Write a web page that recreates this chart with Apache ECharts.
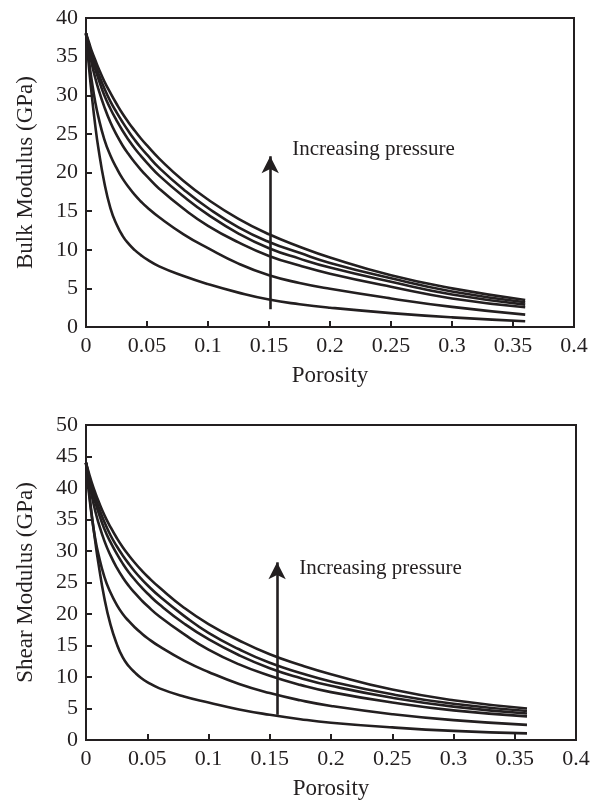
<!DOCTYPE html>
<html>
<head>
<meta charset="utf-8">
<script src="https://cdn.jsdelivr.net/npm/echarts@6/dist/echarts.min.js"></script>
<style>
html,body{margin:0;padding:0;background:#fff;}
#chart{width:601px;height:803px;}
</style>
</head>
<body>
<div id="chart"></div>
<script>
// Porosity sample points
var porosity = [0, 0.0025, 0.005, 0.0075, 0.01, 0.015, 0.02, 0.025, 0.03, 0.035, 0.04, 0.045, 0.05, 0.06, 0.08, 0.1, 0.125, 0.15, 0.175, 0.2, 0.25, 0.3, 0.36];

// Bulk modulus (GPa), lowest pressure first
var bulkP1 = [38, 33.5, 29.6, 26.2, 23.3, 18.7, 15.4, 13.3, 11.8, 10.75, 9.95, 9.3, 8.75, 7.85, 6.6, 5.55, 4.45, 3.55, 2.95, 2.5, 1.8, 1.25, 0.75];
var bulkP2 = [38, 34.4, 31.6, 29.2, 27.3, 24.3, 22.2, 20.6, 19.2, 18.1, 17.1, 16.25, 15.5, 14.2, 12.0, 10.2, 8.2, 6.7, 5.7, 4.95, 3.7, 2.6, 1.6];
var bulkP3 = [38, 35.8, 33.9, 32.3, 30.9, 28.5, 26.5, 24.9, 23.5, 22.35, 21.3, 20.35, 19.5, 17.9, 15.3, 13.1, 10.95, 9.2, 7.95, 6.9, 5.2, 3.7, 2.55];
var bulkP4 = [38, 36.3, 34.75, 33.4, 32.2, 30.0, 28.25, 26.75, 25.4, 24.2, 23.1, 22.15, 21.25, 19.6, 16.9, 14.55, 12.1, 10.2, 8.85, 7.7, 5.85, 4.2, 2.9];
var bulkP5 = [38, 36.5, 35.2, 34.0, 32.9, 30.9, 29.2, 27.8, 26.5, 25.3, 24.2, 23.2, 22.3, 20.6, 17.8, 15.4, 12.9, 11.0, 9.6, 8.3, 6.3, 4.6, 3.2];
var bulkP6 = [38, 36.8, 35.6, 34.6, 33.6, 31.8, 30.3, 28.9, 27.6, 26.45, 25.4, 24.4, 23.5, 21.8, 18.9, 16.5, 14.0, 12.0, 10.4, 9.0, 6.7, 5.0, 3.5];

// Shear modulus (GPa), lowest pressure first
var shearP1 = [44, 39.5, 35.3, 31.6, 28.2, 22.5, 18.3, 15.3, 13.1, 11.7, 10.7, 9.85, 9.2, 8.2, 6.9, 5.95, 4.85, 4.0, 3.3, 2.75, 2.0, 1.45, 1.05];
var shearP2 = [44, 39.0, 35.1, 32.0, 29.6, 25.9, 23.4, 21.5, 20.0, 18.85, 17.85, 16.98, 16.2, 14.85, 12.6, 10.8, 8.9, 7.45, 6.3, 5.4, 4.1, 3.15, 2.4];
var shearP3 = [44, 41.0, 38.5, 36.4, 34.6, 31.6, 29.3, 27.4, 25.8, 24.45, 23.3, 22.25, 21.3, 19.6, 16.8, 14.35, 12.0, 10.2, 8.75, 7.6, 5.95, 4.7, 3.75];
var shearP4 = [44, 41.6, 39.6, 37.8, 36.2, 33.5, 31.4, 29.6, 28.0, 26.6, 25.4, 24.3, 23.3, 21.5, 18.5, 16.0, 13.45, 11.4, 9.85, 8.6, 6.7, 5.3, 4.2];
var shearP5 = [44, 41.9, 40.1, 38.5, 37.1, 34.6, 32.5, 30.8, 29.3, 27.95, 26.7, 25.6, 24.6, 22.8, 19.7, 17.0, 14.4, 12.25, 10.65, 9.3, 7.25, 5.75, 4.6];
var shearP6 = [44, 42.3, 40.7, 39.3, 38.0, 35.7, 33.8, 32.1, 30.6, 29.3, 28.1, 27.0, 26.0, 24.2, 21.0, 18.4, 15.8, 13.6, 11.9, 10.45, 8.0, 6.3, 5.0];

// Axis ranges / ticks
var xRange = [0, 0.4], xStep = 0.05;
var bulkRange = [0, 40], bulkStep = 5;
var shearRange = [0, 50], shearStep = 5;

// Annotations: arrow [x, yStart, yEnd], text [x, y]
var bulkArrow = [0.151, 2.3, 22.1];
var bulkText = [0.169, 23.0];
var shearArrow = [0.156, 4.0, 28.2];
var shearText = [0.174, 27.3];
var noteText = 'Increasing pressure';

var INK = '#231f20';
var FONT = 'Liberation Serif';

function pairs(ys) { return porosity.map(function (x, i) { return [x, ys[i]]; }); }

function xAxisCfg(gi) {
  return {
    gridIndex: gi, type: 'value', min: xRange[0], max: xRange[1], interval: xStep,
    name: 'Porosity', nameLocation: 'middle', nameGap: 37,
    nameTextStyle: { fontFamily: FONT, fontSize: 23, color: INK },
    axisLine: { show: true, lineStyle: { color: INK, width: 2 } },
    axisTick: { show: true, inside: true, length: 6, lineStyle: { color: INK, width: 2 } },
    axisLabel: { fontFamily: FONT, fontSize: 22, color: INK, margin: 8,
      formatter: function (v) { return String(+v.toFixed(2)); } },
    splitLine: { show: false }
  };
}
function yAxisCfg(gi, name, range, step) {
  return {
    gridIndex: gi, type: 'value', min: range[0], max: range[1], interval: step,
    name: name, nameLocation: 'middle', nameGap: 49, nameRotate: 90,
    nameTextStyle: { fontFamily: FONT, fontSize: 23, color: INK },
    axisLine: { show: true, lineStyle: { color: INK, width: 2 } },
    axisTick: { show: true, inside: true, length: 6, lineStyle: { color: INK, width: 2 } },
    axisLabel: { fontFamily: FONT, fontSize: 22, color: INK, margin: 8 },
    splitLine: { show: false }
  };
}
function curve(gi, ys) {
  return {
    type: 'line', xAxisIndex: gi, yAxisIndex: gi, data: pairs(ys),
    showSymbol: false, smooth: 0.5, silent: true,
    lineStyle: { color: INK, width: 2.6 }, animation: false
  };
}
function annot(gi, arrow, text) {
  return {
    type: 'line', xAxisIndex: gi, yAxisIndex: gi, data: [], silent: true, animation: false,
    markLine: {
      silent: true, symbol: ['none', 'arrow'], symbolSize: [13, 17],
      label: { show: false },
      lineStyle: { color: INK, width: 2.6, type: 'solid' },
      data: [[{ coord: [arrow[0], arrow[1]] }, { coord: [arrow[0], arrow[2]] }]],
      animation: false
    },
    markPoint: {
      silent: true, symbol: 'circle', symbolSize: 0, animation: false,
      label: { show: true, position: 'right', distance: 0, formatter: noteText,
        fontFamily: FONT, fontSize: 21, color: INK },
      data: [{ coord: text }]
    }
  };
}

var chart = echarts.init(document.getElementById('chart'), null, { renderer: 'canvas' });
chart.setOption({
  backgroundColor: '#fff',
  animation: false,
  grid: [
    { left: 86, top: 18, width: 488, height: 309, show: true, borderColor: INK, borderWidth: 2, backgroundColor: 'transparent' },
    { left: 86, top: 425, width: 490, height: 315, show: true, borderColor: INK, borderWidth: 2, backgroundColor: 'transparent' }
  ],
  xAxis: [xAxisCfg(0), xAxisCfg(1)],
  yAxis: [yAxisCfg(0, 'Bulk Modulus (GPa)', bulkRange, bulkStep), yAxisCfg(1, 'Shear Modulus (GPa)', shearRange, shearStep)],
  series: [
    curve(0, bulkP1), curve(0, bulkP2), curve(0, bulkP3), curve(0, bulkP4), curve(0, bulkP5), curve(0, bulkP6),
    curve(1, shearP1), curve(1, shearP2), curve(1, shearP3), curve(1, shearP4), curve(1, shearP5), curve(1, shearP6),
    annot(0, bulkArrow, bulkText), annot(1, shearArrow, shearText)
  ]
});
</script>
</body>
</html>
